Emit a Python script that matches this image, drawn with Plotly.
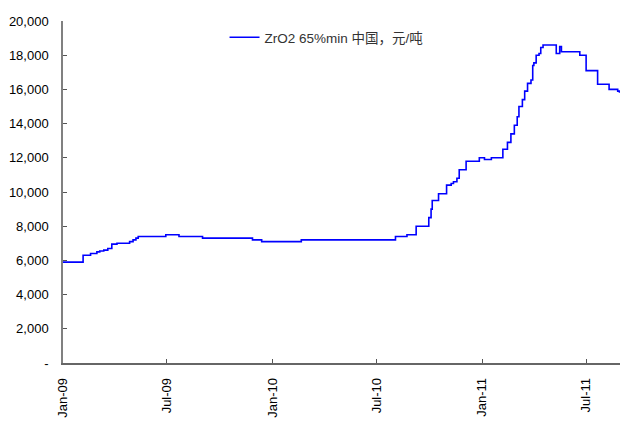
import plotly.graph_objects as go

dates = [
    "2009-01-01", "2009-02-05", "2009-02-18", "2009-03-01", "2009-03-06", "2009-03-13",
    "2009-03-20", "2009-03-27", "2009-04-05", "2009-04-27", "2009-05-03", "2009-05-08",
    "2009-05-12", "2009-06-29", "2009-07-22", "2009-09-01", "2009-11-27", "2009-12-13",
    "2010-02-20", "2010-08-03", "2010-08-23", "2010-09-08", "2010-09-30", "2010-10-04",
    "2010-10-06", "2010-10-17", "2010-10-31", "2010-11-08", "2010-11-12", "2010-11-18",
    "2010-11-22", "2010-12-04", "2010-12-27", "2011-01-05", "2011-01-17", "2011-02-06",
    "2011-02-14", "2011-02-20", "2011-02-26", "2011-03-03", "2011-03-06", "2011-03-12",
    "2011-03-16", "2011-03-21", "2011-03-27", "2011-03-30", "2011-04-01", "2011-04-05",
    "2011-04-10", "2011-04-13", "2011-04-17", "2011-05-10", "2011-05-16", "2011-05-19",
    "2011-06-20", "2011-07-01", "2011-07-21", "2011-08-10", "2011-08-25", "2011-08-28",
]
prices = [
    5900, 6300, 6400, 6500, 6550, 6600,
    6700, 6950, 7000, 7100, 7200, 7300,
    7400, 7500, 7400, 7300, 7200, 7100,
    7200, 7400, 7500, 8000, 8500, 9000,
    9500, 9900, 10400, 10500, 10600, 10800,
    11300, 11800, 12000, 11900, 12000, 12500,
    12900, 13400, 13900, 14400, 15000, 15400,
    15900, 16350, 16550, 17400, 17550, 18000,
    18100, 18450, 18600, 18100, 18500, 18200,
    18000, 17100, 16300, 16000, 15900, 15800,
]

y_tickvals = [0, 2000, 4000, 6000, 8000, 10000, 12000, 14000, 16000, 18000, 20000]
y_ticktext = ["-", "2,000", "4,000", "6,000", "8,000", "10,000", "12,000",
              "14,000", "16,000", "18,000", "20,000"]
series_name = "ZrO2 65%min 中国，元/吨"

fig = go.Figure()
fig.add_trace(go.Scatter(
    x=dates, y=prices, mode="lines", name=series_name,
    line=dict(color="#0000FF", width=1.6, shape="hv"),
))

font_family = "Liberation Sans, Arial, Noto Sans CJK SC, sans-serif"

fig.update_layout(
    width=620, height=423,
    margin=dict(l=63, r=0, t=21, b=60, autoexpand=False),
    paper_bgcolor="white", plot_bgcolor="white",
    font=dict(family=font_family, size=13, color="#000000"),
    showlegend=True,
    legend=dict(
        x=0.29, y=0.997, xanchor="left", yanchor="top",
        bgcolor="rgba(0,0,0,0)", font=dict(size=13.5, color="#333333"),
        itemwidth=30,
    ),
    xaxis=dict(
        type="date",
        range=["2009-01-01", "2011-08-29"],
        tick0="2009-01-01", dtick="M6", tickformat="%b-%y",
        tickangle=-90,
        ticks="inside", ticklen=4, tickcolor="#555555",
        showline=True, linecolor="#666666", linewidth=1.5,
        showgrid=False, zeroline=False,
        ticklabelstandoff=8, automargin=False,
    ),
    yaxis=dict(
        range=[0, 20000],
        tickvals=y_tickvals, ticktext=y_ticktext,
        ticks="inside", ticklen=4, tickcolor="#555555",
        showline=True, linecolor="#808080", linewidth=1.5,
        showgrid=False, zeroline=False,
        ticklabelstandoff=10, automargin=False,
    ),
)

fig.write_html(
    "out.html",
    config={"displayModeBar": False},
    post_script="document.body.style.margin='0px';document.body.style.padding='0px';",
)
